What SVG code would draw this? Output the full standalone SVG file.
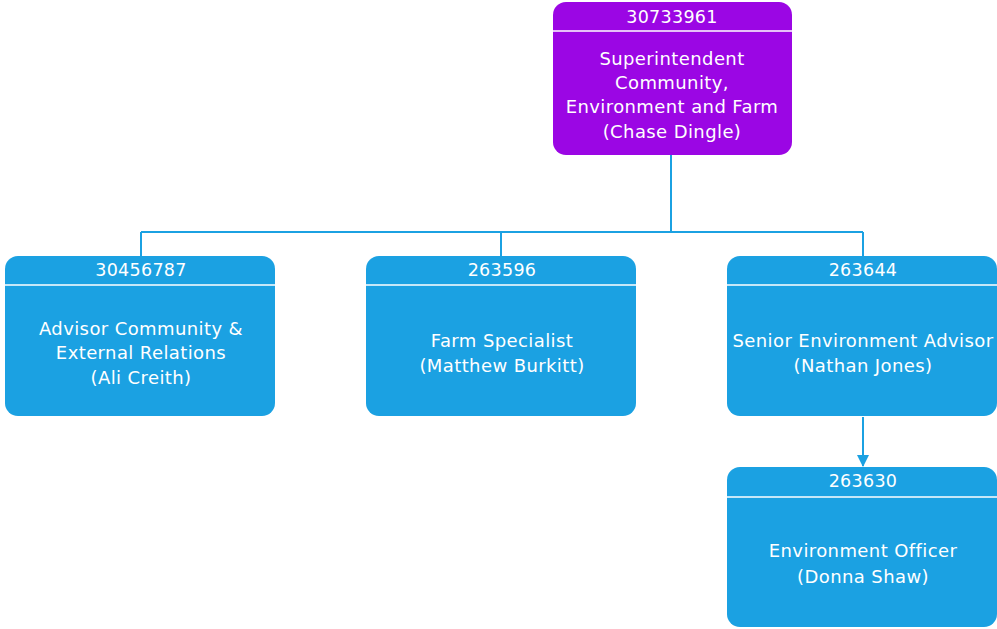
<svg xmlns="http://www.w3.org/2000/svg" width="997" height="629" viewBox="0 0 997 629">
<defs>
<style>
.box{stroke:none}
.purple{fill:#9B06E4}
.blue{fill:#1BA1E2}
.div{stroke:#ffffff;stroke-width:1.5}
text{font-family:"DejaVu Sans","Liberation Sans",sans-serif;font-size:18px;letter-spacing:0.4px;fill:#ffffff;text-anchor:middle;dominant-baseline:central}
.hd{font-size:17.5px;letter-spacing:0.3px}
.conn{stroke:#1BA1E2;stroke-width:2;fill:none}
</style>
<marker id="arr" markerWidth="12" markerHeight="12" refX="11" refY="6" orient="auto" markerUnits="userSpaceOnUse">
<path d="M0,0 L12,6 L0,12 Z" fill="#1BA1E2"/>
</marker>
</defs>
<rect width="997" height="629" fill="#ffffff"/>
<g id="connectors">
<path class="conn" d="M671,155 V232 M141,232 H863 M141,232 V256 M501,232 V256 M863,232 V256"/>
<path class="conn" d="M863,417 V466" marker-end="url(#arr)"/>
</g>
<g id="node-30733961">
<rect class="box purple" x="553" y="2" width="239" height="153" rx="13"/>
<line class="div" x1="553" y1="31" x2="792" y2="31"/>
<text class="hd" x="672" y="17">30733961</text>
<text x="672" y="58">Superintendent</text>
<text x="672" y="82">Community,</text>
<text x="672" y="106">Environment and Farm</text>
<text x="672" y="131">(Chase Dingle)</text>
</g>
<g id="node-30456787">
<rect class="box blue" x="5" y="256" width="270" height="160" rx="13"/>
<line class="div" x1="5" y1="285" x2="275" y2="285"/>
<text class="hd" x="141" y="270">30456787</text>
<text x="141" y="328">Advisor Community &amp;</text>
<text x="141" y="352">External Relations</text>
<text x="141" y="377">(Ali Creith)</text>
</g>
<g id="node-263596">
<rect class="box blue" x="366" y="256" width="270" height="160" rx="13"/>
<line class="div" x1="366" y1="285" x2="636" y2="285"/>
<text class="hd" x="502" y="270">263596</text>
<text x="502" y="340">Farm Specialist</text>
<text x="502" y="365">(Matthew Burkitt)</text>
</g>
<g id="node-263644">
<rect class="box blue" x="727" y="256" width="270" height="160" rx="13"/>
<line class="div" x1="727" y1="285" x2="997" y2="285"/>
<text class="hd" x="863" y="270">263644</text>
<text x="863" y="340">Senior Environment Advisor</text>
<text x="863" y="365">(Nathan Jones)</text>
</g>
<g id="node-263630">
<rect class="box blue" x="727" y="467" width="270" height="160" rx="13"/>
<line class="div" x1="727" y1="497" x2="997" y2="497"/>
<text class="hd" x="863" y="481">263630</text>
<text x="863" y="550">Environment Officer</text>
<text x="863" y="576">(Donna Shaw)</text>
</g>
</svg>
